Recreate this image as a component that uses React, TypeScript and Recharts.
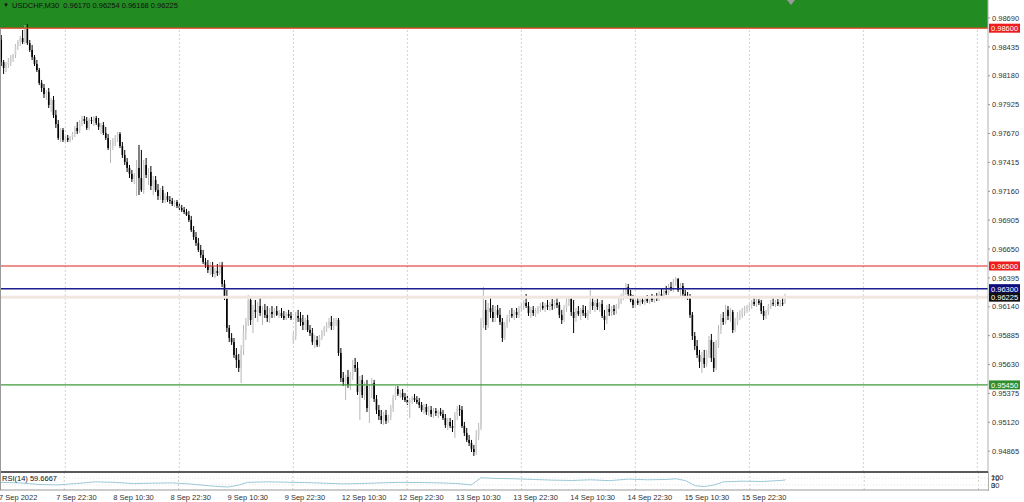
import React from 'react';
import { ComposedChart, Bar, Line, XAxis, YAxis, ReferenceLine, ReferenceArea } from 'recharts';

// USDCHF M30, one candle = [open, high, low, close]
type Candle = [number, number, number, number];

const sep07: Candle[] = [
  [0.98496, 0.98540, 0.98266, 0.98302], [0.98302, 0.98319, 0.98196, 0.98249], [0.98249, 0.98302, 0.98213, 0.98284],
  [0.98284, 0.98337, 0.98249, 0.98302], [0.98302, 0.98363, 0.98266, 0.98337], [0.98337, 0.98372, 0.98302, 0.98363],
  [0.98363, 0.98460, 0.98337, 0.98443], [0.98443, 0.98496, 0.98408, 0.98478], [0.98478, 0.98531, 0.98443, 0.98513],
  [0.98513, 0.98584, 0.98460, 0.98478], [0.98478, 0.98628, 0.98460, 0.98593], [0.98593, 0.98637, 0.98452, 0.98469],
  [0.98469, 0.98496, 0.98390, 0.98408], [0.98408, 0.98452, 0.98319, 0.98346], [0.98346, 0.98363, 0.98266, 0.98284],
  [0.98284, 0.98319, 0.98213, 0.98231], [0.98231, 0.98249, 0.98098, 0.98116], [0.98116, 0.98143, 0.98037, 0.98072],
  [0.98072, 0.98107, 0.97984, 0.98019], [0.98019, 0.98054, 0.97966, 0.98037], [0.98037, 0.98072, 0.97895, 0.97922],
  [0.97922, 0.97984, 0.97860, 0.97966], [0.97966, 0.98001, 0.97807, 0.97834], [0.97834, 0.97878, 0.97719, 0.97754],
  [0.97754, 0.97789, 0.97613, 0.97630], [0.97630, 0.97719, 0.97595, 0.97701], [0.97701, 0.97719, 0.97595, 0.97613],
];

const sep08: Candle[] = [
  [0.97613, 0.97648, 0.97586, 0.97630], [0.97630, 0.97657, 0.97595, 0.97613], [0.97613, 0.97648, 0.97595, 0.97639],
  [0.97639, 0.97683, 0.97613, 0.97666], [0.97666, 0.97736, 0.97639, 0.97719], [0.97719, 0.97772, 0.97666, 0.97692],
  [0.97692, 0.97789, 0.97675, 0.97772], [0.97772, 0.97825, 0.97736, 0.97798], [0.97798, 0.97825, 0.97754, 0.97781],
  [0.97781, 0.97816, 0.97701, 0.97719], [0.97719, 0.97807, 0.97701, 0.97789], [0.97789, 0.97816, 0.97754, 0.97781],
  [0.97781, 0.97825, 0.97736, 0.97807], [0.97807, 0.97825, 0.97745, 0.97763], [0.97763, 0.97807, 0.97701, 0.97728],
  [0.97728, 0.97763, 0.97666, 0.97745], [0.97745, 0.97772, 0.97657, 0.97675], [0.97675, 0.97728, 0.97613, 0.97630],
  [0.97630, 0.97666, 0.97525, 0.97542], [0.97542, 0.97613, 0.97410, 0.97560], [0.97560, 0.97630, 0.97525, 0.97595],
  [0.97595, 0.97657, 0.97560, 0.97630], [0.97630, 0.97683, 0.97595, 0.97666], [0.97666, 0.97683, 0.97542, 0.97560],
  [0.97560, 0.97595, 0.97454, 0.97480], [0.97480, 0.97525, 0.97392, 0.97419], [0.97419, 0.97454, 0.97330, 0.97366],
  [0.97366, 0.97392, 0.97277, 0.97313], [0.97313, 0.97348, 0.97242, 0.97268], [0.97268, 0.97321, 0.97224, 0.97295],
  [0.97295, 0.97436, 0.97118, 0.97366], [0.97366, 0.97569, 0.97127, 0.97277], [0.97277, 0.97525, 0.97154, 0.97171],
  [0.97171, 0.97436, 0.97136, 0.97392], [0.97392, 0.97454, 0.97277, 0.97304], [0.97304, 0.97366, 0.97215, 0.97330],
  [0.97330, 0.97383, 0.97171, 0.97207], [0.97207, 0.97295, 0.97127, 0.97260], [0.97260, 0.97295, 0.97154, 0.97171],
  [0.97171, 0.97224, 0.97083, 0.97118], [0.97118, 0.97189, 0.97083, 0.97171], [0.97171, 0.97207, 0.97057, 0.97083],
  [0.97083, 0.97145, 0.97057, 0.97118], [0.97118, 0.97154, 0.97065, 0.97083], [0.97083, 0.97118, 0.97048, 0.97074],
  [0.97074, 0.97101, 0.97030, 0.97048], [0.97048, 0.97083, 0.97021, 0.97065], [0.97065, 0.97083, 0.97012, 0.97030],
];

const sep09: Candle[] = [
  [0.97030, 0.97057, 0.96995, 0.97012], [0.97012, 0.97039, 0.96977, 0.96995], [0.96995, 0.97021, 0.96959, 0.96977],
  [0.96977, 0.97004, 0.96942, 0.96951], [0.96951, 0.96986, 0.96889, 0.96906], [0.96906, 0.96942, 0.96800, 0.96818],
  [0.96818, 0.96853, 0.96730, 0.96756], [0.96756, 0.96800, 0.96677, 0.96703], [0.96703, 0.96747, 0.96624, 0.96642],
  [0.96642, 0.96686, 0.96571, 0.96597], [0.96597, 0.96642, 0.96518, 0.96536], [0.96536, 0.96571, 0.96483, 0.96509],
  [0.96509, 0.96553, 0.96438, 0.96465], [0.96465, 0.96536, 0.96421, 0.96500], [0.96500, 0.96536, 0.96403, 0.96430],
  [0.96430, 0.96483, 0.96394, 0.96456], [0.96456, 0.96518, 0.96412, 0.96438], [0.96438, 0.96536, 0.96421, 0.96509],
  [0.96509, 0.96536, 0.96315, 0.96341], [0.96341, 0.96377, 0.96200, 0.96235], [0.96235, 0.96288, 0.95917, 0.95953],
  [0.95953, 0.95979, 0.95829, 0.95864], [0.95864, 0.95908, 0.95803, 0.95829], [0.95829, 0.95864, 0.95688, 0.95714],
  [0.95714, 0.95776, 0.95600, 0.95670], [0.95670, 0.95723, 0.95564, 0.95600], [0.95600, 0.95803, 0.95467, 0.95759],
  [0.95759, 0.95979, 0.95714, 0.95917], [0.95917, 0.96041, 0.95847, 0.96006], [0.96006, 0.96244, 0.95970, 0.96200],
  [0.96200, 0.96226, 0.95979, 0.96023], [0.96023, 0.96156, 0.95908, 0.96112], [0.96112, 0.96200, 0.96041, 0.96094],
  [0.96094, 0.96182, 0.96006, 0.96147], [0.96147, 0.96218, 0.96059, 0.96085], [0.96085, 0.96147, 0.95979, 0.96112],
  [0.96112, 0.96165, 0.96041, 0.96068], [0.96068, 0.96147, 0.96006, 0.96041], [0.96041, 0.96129, 0.95997, 0.96094],
  [0.96094, 0.96147, 0.96041, 0.96076], [0.96076, 0.96129, 0.96041, 0.96103], [0.96103, 0.96147, 0.96059, 0.96068],
  [0.96068, 0.96112, 0.96041, 0.96085], [0.96085, 0.96129, 0.96041, 0.96059], [0.96059, 0.96103, 0.96023, 0.96041],
  [0.96041, 0.96094, 0.96023, 0.96076], [0.96076, 0.96112, 0.96041, 0.96059], [0.96059, 0.96094, 0.96023, 0.96041],
];

const sep12: Candle[] = [
  [0.95847, 0.95917, 0.95811, 0.95882], [0.95882, 0.96094, 0.95847, 0.96059], [0.96059, 0.96112, 0.96006, 0.96041],
  [0.96041, 0.96094, 0.95970, 0.96006], [0.96006, 0.96068, 0.95935, 0.95979], [0.95979, 0.96041, 0.95935, 0.96023],
  [0.96023, 0.96068, 0.95917, 0.95935], [0.95935, 0.95979, 0.95882, 0.95908], [0.95908, 0.95953, 0.95803, 0.95829],
  [0.95829, 0.95891, 0.95776, 0.95847], [0.95847, 0.95882, 0.95785, 0.95803], [0.95803, 0.95891, 0.95785, 0.95873],
  [0.95873, 0.95935, 0.95847, 0.95917], [0.95917, 0.95970, 0.95882, 0.95953], [0.95953, 0.96006, 0.95917, 0.95979],
  [0.95979, 0.96041, 0.95953, 0.96006], [0.96006, 0.96059, 0.95935, 0.95970], [0.95970, 0.96041, 0.95935, 0.96015],
  [0.96015, 0.96041, 0.95970, 0.96023], [0.96023, 0.96041, 0.95706, 0.95732], [0.95732, 0.95776, 0.95476, 0.95511],
  [0.95511, 0.95564, 0.95441, 0.95476], [0.95476, 0.95538, 0.95317, 0.95520], [0.95520, 0.95582, 0.95423, 0.95449],
  [0.95449, 0.95564, 0.95405, 0.95538], [0.95538, 0.95670, 0.95494, 0.95626], [0.95626, 0.95688, 0.95564, 0.95600],
  [0.95600, 0.95653, 0.95361, 0.95388], [0.95388, 0.95529, 0.95140, 0.95494], [0.95494, 0.95538, 0.95335, 0.95361],
  [0.95361, 0.95476, 0.95317, 0.95441], [0.95441, 0.95494, 0.95211, 0.95246], [0.95246, 0.95449, 0.95114, 0.95405],
  [0.95405, 0.95511, 0.95335, 0.95467], [0.95467, 0.95494, 0.95299, 0.95326], [0.95326, 0.95361, 0.95193, 0.95229],
  [0.95229, 0.95273, 0.95140, 0.95176], [0.95176, 0.95229, 0.95105, 0.95140], [0.95140, 0.95211, 0.95096, 0.95185],
  [0.95185, 0.95229, 0.95105, 0.95132], [0.95132, 0.95185, 0.95114, 0.95167], [0.95167, 0.95273, 0.95140, 0.95246],
  [0.95246, 0.95361, 0.95211, 0.95335], [0.95335, 0.95441, 0.95317, 0.95414], [0.95414, 0.95441, 0.95352, 0.95370],
  [0.95370, 0.95405, 0.95335, 0.95379], [0.95379, 0.95414, 0.95317, 0.95343], [0.95343, 0.95379, 0.95299, 0.95317],
];

const sep13: Candle[] = [
  [0.95317, 0.95352, 0.95273, 0.95291], [0.95291, 0.95335, 0.95158, 0.95317], [0.95317, 0.95352, 0.95282, 0.95335],
  [0.95335, 0.95370, 0.95299, 0.95317], [0.95317, 0.95352, 0.95282, 0.95299], [0.95299, 0.95335, 0.95246, 0.95273],
  [0.95273, 0.95299, 0.95211, 0.95229], [0.95229, 0.95282, 0.95193, 0.95255], [0.95255, 0.95282, 0.95185, 0.95211],
  [0.95211, 0.95264, 0.95176, 0.95229], [0.95229, 0.95264, 0.95167, 0.95193], [0.95193, 0.95246, 0.95158, 0.95220],
  [0.95220, 0.95246, 0.95176, 0.95202], [0.95202, 0.95229, 0.95158, 0.95211], [0.95211, 0.95246, 0.95176, 0.95193],
  [0.95193, 0.95229, 0.95140, 0.95158], [0.95158, 0.95193, 0.95070, 0.95096], [0.95096, 0.95158, 0.95052, 0.95123],
  [0.95123, 0.95158, 0.95070, 0.95087], [0.95087, 0.95140, 0.95034, 0.95070], [0.95070, 0.95211, 0.94981, 0.95185],
  [0.95185, 0.95264, 0.95140, 0.95238], [0.95238, 0.95273, 0.95176, 0.95229], [0.95229, 0.95264, 0.95070, 0.95087],
  [0.95087, 0.95123, 0.94999, 0.95026], [0.95026, 0.95070, 0.94946, 0.94964], [0.94964, 0.95008, 0.94911, 0.94937],
  [0.94937, 0.94964, 0.94858, 0.94884], [0.94884, 0.94920, 0.94823, 0.94858], [0.94858, 0.95052, 0.94832, 0.94999],
  [0.94999, 0.95114, 0.94964, 0.95070], [0.95070, 0.96041, 0.95052, 0.96006], [0.96006, 0.96315, 0.95953, 0.96112],
  [0.96112, 0.96200, 0.95935, 0.95979], [0.95979, 0.96174, 0.95953, 0.96129], [0.96129, 0.96235, 0.96041, 0.96094],
  [0.96094, 0.96156, 0.96006, 0.96041], [0.96041, 0.96147, 0.96006, 0.96112], [0.96112, 0.96156, 0.96041, 0.96068],
  [0.96068, 0.96129, 0.95979, 0.96006], [0.96006, 0.96041, 0.95829, 0.95864], [0.95864, 0.96006, 0.95847, 0.95979],
  [0.95979, 0.96068, 0.95953, 0.96041], [0.96041, 0.96112, 0.96006, 0.96076], [0.96076, 0.96129, 0.96041, 0.96059],
  [0.96059, 0.96112, 0.96023, 0.96094], [0.96094, 0.96129, 0.96041, 0.96068], [0.96068, 0.96147, 0.96041, 0.96121],
];

const sep14: Candle[] = [
  [0.96121, 0.96174, 0.96094, 0.96147], [0.96147, 0.96200, 0.96112, 0.96174], [0.96174, 0.96253, 0.96129, 0.96147],
  [0.96147, 0.96182, 0.96059, 0.96085], [0.96085, 0.96138, 0.96041, 0.96112], [0.96112, 0.96147, 0.96059, 0.96085],
  [0.96085, 0.96129, 0.96050, 0.96103], [0.96103, 0.96147, 0.96076, 0.96129], [0.96129, 0.96174, 0.96094, 0.96147],
  [0.96147, 0.96182, 0.96112, 0.96129], [0.96129, 0.96174, 0.96094, 0.96156], [0.96156, 0.96200, 0.96112, 0.96138],
  [0.96138, 0.96182, 0.96103, 0.96165], [0.96165, 0.96209, 0.96112, 0.96147], [0.96147, 0.96200, 0.96121, 0.96174],
  [0.96174, 0.96218, 0.96129, 0.96156], [0.96156, 0.96182, 0.96041, 0.96068], [0.96068, 0.96112, 0.95988, 0.96023],
  [0.96023, 0.96156, 0.96006, 0.96129], [0.96129, 0.96218, 0.96094, 0.96182], [0.96182, 0.96235, 0.96147, 0.96209],
  [0.96209, 0.96226, 0.96059, 0.96094], [0.96094, 0.96200, 0.95908, 0.96041], [0.96041, 0.96129, 0.96006, 0.96103],
  [0.96103, 0.96147, 0.96059, 0.96076], [0.96076, 0.96129, 0.96023, 0.96112], [0.96112, 0.96156, 0.96059, 0.96085],
  [0.96085, 0.96147, 0.96041, 0.96059], [0.96059, 0.96112, 0.96023, 0.96094], [0.96094, 0.96288, 0.96076, 0.96182],
  [0.96182, 0.96235, 0.96112, 0.96147], [0.96147, 0.96200, 0.96094, 0.96174], [0.96174, 0.96209, 0.96112, 0.96138],
  [0.96138, 0.96182, 0.96094, 0.96165], [0.96165, 0.96200, 0.96041, 0.96059], [0.96059, 0.96112, 0.95935, 0.96023],
  [0.96023, 0.96156, 0.95988, 0.96121], [0.96121, 0.96165, 0.96059, 0.96094], [0.96094, 0.96147, 0.96059, 0.96121],
  [0.96121, 0.96156, 0.96068, 0.96103], [0.96103, 0.96165, 0.96076, 0.96147], [0.96147, 0.96218, 0.96121, 0.96191],
  [0.96191, 0.96253, 0.96165, 0.96226], [0.96226, 0.96297, 0.96200, 0.96271], [0.96271, 0.96350, 0.96244, 0.96315],
  [0.96315, 0.96341, 0.96235, 0.96253], [0.96253, 0.96288, 0.96182, 0.96200], [0.96200, 0.96244, 0.96129, 0.96156],
];

const sep15: Candle[] = [
  [0.96156, 0.96218, 0.96129, 0.96191], [0.96191, 0.96226, 0.96156, 0.96174], [0.96174, 0.96218, 0.96147, 0.96200],
  [0.96200, 0.96235, 0.96165, 0.96182], [0.96182, 0.96226, 0.96156, 0.96209], [0.96209, 0.96244, 0.96174, 0.96191],
  [0.96191, 0.96235, 0.96165, 0.96218], [0.96218, 0.96253, 0.96182, 0.96200], [0.96200, 0.96244, 0.96174, 0.96226],
  [0.96226, 0.96262, 0.96191, 0.96209], [0.96209, 0.96279, 0.96191, 0.96253], [0.96253, 0.96297, 0.96218, 0.96235],
  [0.96235, 0.96297, 0.96209, 0.96279], [0.96279, 0.96324, 0.96244, 0.96262], [0.96262, 0.96341, 0.96244, 0.96315],
  [0.96315, 0.96359, 0.96279, 0.96297], [0.96297, 0.96385, 0.96271, 0.96359], [0.96359, 0.96403, 0.96324, 0.96385],
  [0.96385, 0.96394, 0.96271, 0.96288], [0.96288, 0.96350, 0.96235, 0.96324], [0.96324, 0.96350, 0.96226, 0.96253],
  [0.96253, 0.96288, 0.96218, 0.96235], [0.96235, 0.96271, 0.96200, 0.96226], [0.96226, 0.96253, 0.96041, 0.96068],
  [0.96068, 0.96094, 0.95847, 0.95882], [0.95882, 0.95917, 0.95759, 0.95794], [0.95794, 0.95847, 0.95688, 0.95714],
  [0.95714, 0.95759, 0.95600, 0.95653], [0.95653, 0.95741, 0.95555, 0.95688], [0.95688, 0.95759, 0.95600, 0.95635],
  [0.95635, 0.95759, 0.95608, 0.95723], [0.95723, 0.95882, 0.95688, 0.95847], [0.95847, 0.95900, 0.95653, 0.95688],
  [0.95688, 0.95829, 0.95564, 0.95600], [0.95600, 0.95847, 0.95582, 0.95803], [0.95803, 0.95979, 0.95776, 0.95935],
  [0.95935, 0.96076, 0.95900, 0.96041], [0.96041, 0.96094, 0.95979, 0.96006], [0.96006, 0.96156, 0.95988, 0.96112],
  [0.96112, 0.96147, 0.96023, 0.96059], [0.96059, 0.96129, 0.96006, 0.96094], [0.96094, 0.96112, 0.95908, 0.95935],
  [0.95935, 0.96041, 0.95917, 0.96006], [0.96006, 0.96094, 0.95979, 0.96059], [0.96059, 0.96112, 0.96023, 0.96076],
  [0.96076, 0.96129, 0.96041, 0.96103], [0.96103, 0.96147, 0.96059, 0.96121], [0.96121, 0.96156, 0.96085, 0.96138],
];

const sep16: Candle[] = [
  [0.96138, 0.96174, 0.96103, 0.96156], [0.96156, 0.96200, 0.96121, 0.96182], [0.96182, 0.96218, 0.96147, 0.96165],
  [0.96165, 0.96209, 0.96138, 0.96191], [0.96191, 0.96209, 0.96156, 0.96174], [0.96174, 0.96200, 0.96076, 0.96103],
  [0.96103, 0.96147, 0.96023, 0.96059], [0.96059, 0.96112, 0.96032, 0.96094], [0.96094, 0.96165, 0.96068, 0.96147],
  [0.96147, 0.96200, 0.96121, 0.96174], [0.96174, 0.96218, 0.96147, 0.96165], [0.96165, 0.96200, 0.96138, 0.96182],
  [0.96182, 0.96209, 0.96147, 0.96165], [0.96165, 0.96200, 0.96138, 0.96174], [0.96174, 0.96218, 0.96147, 0.96170],
  [0.96170, 0.96254, 0.96168, 0.96225],
];

// RSI(14): [bar index, value]
const rsiPoints: [number, number][] = [
  [0, 45], [8, 42], [16, 33], [24, 30], [32, 38], [40, 48], [48, 45], [56, 38], [64, 40], [72, 42],
  [80, 35], [88, 25], [92, 20], [96, 18], [100, 28], [104, 45], [112, 48], [120, 46], [128, 44], [136, 40],
  [144, 36], [152, 38], [160, 42], [168, 45], [176, 44], [184, 42], [192, 38], [198, 30], [202, 72], [208, 68],
  [216, 66], [224, 62], [232, 58], [240, 56], [248, 60], [256, 55], [264, 64], [272, 60], [280, 62], [284, 66],
  [288, 55], [292, 25], [296, 20], [300, 30], [304, 48], [312, 52], [320, 50], [328, 56], [330, 59.6667],
];

const timeLabels = [
  '7 Sep 2022', '7 Sep 22:30', '8 Sep 10:30', '8 Sep 22:30', '9 Sep 10:30', '9 Sep 22:30', '12 Sep 10:30',
  '12 Sep 22:30', '13 Sep 10:30', '13 Sep 22:30', '14 Sep 10:30', '14 Sep 22:30', '15 Sep 10:30', '15 Sep 22:30',
];

const priceTicks = [
  0.9869, 0.98435, 0.9818, 0.97925, 0.9767, 0.97415, 0.9716, 0.96905,
  0.9665, 0.96395, 0.9614, 0.95885, 0.9563, 0.95375, 0.9512, 0.94865,
];

const levels = [
  { price: 0.986, line: '#e8401f', tag: '#ee1c1c', width: 1.3 },
  { price: 0.965, line: '#e2231d', tag: '#ee1c1c', width: 1.2 },
  { price: 0.963, line: '#1c1f8c', tag: '#0e0e7c', width: 1.5 },
  { price: 0.9545, line: '#3d9b3d', tag: '#2f8f2f', width: 1.2 },
];
const bidPrice = 0.96225;
const bandFrom = 0.986;

const Y_MIN = 0.94681;
const Y_MAX = 0.98849;
const SLOTS = 416; // bars that fit across the window, incl. empty right shift
const BARS_PER_LABEL = 24;
const FIRST_MIDNIGHT = 27; // 8 Sep 00:00
const BARS_PER_DAY = 48;

const candles = [sep07, sep08, sep09, sep12, sep13, sep14, sep15, sep16].flat();
const rsiMap = new Map(rsiPoints);

const data = Array.from({ length: SLOTS }, (_, i) => {
  const c = candles[i];
  const row: any = { i, rsi: rsiMap.has(i) ? rsiMap.get(i) : null };
  if (c) {
    row.o = c[0];
    row.h = c[1];
    row.l = c[2];
    row.c = c[3];
    row.range = [c[2], c[1]];
  }
  return row;
});

const dayLines: number[] = [];
for (let d = FIRST_MIDNIGHT; d < SLOTS; d += BARS_PER_DAY) dayLines.push(d);

const FONT = '"Liberation Sans", Arial, sans-serif';

const CandleShape = (props: any) => {
  const { x, y, width, height, payload } = props;
  if (!payload || payload.o == null) return null;
  const { o, h, l, c } = payload;
  const top0 = Math.min(y, y + height);
  const hgt = Math.abs(height);
  const span = h - l || 1;
  const toY = (v: number) => top0 + ((h - v) / span) * hgt;
  const cx = x + width / 2;
  const bull = c >= o;
  const bTop = toY(Math.max(o, c));
  const bBot = toY(Math.min(o, c));
  return (
    <g>
      <line x1={cx} x2={cx} y1={top0} y2={top0 + hgt} stroke={bull ? '#b8b8b8' : '#000'} strokeWidth={1} />
      <rect x={cx - 0.8} y={bTop} width={1.6} height={Math.max(bBot - bTop, 0.8)} fill={bull ? '#cfcfcf' : '#000'} />
    </g>
  );
};

const priceTag = (color: string, text: string) => (props: any) => {
  const vb = props.viewBox || {};
  const x = (vb.x || 0) + (vb.width || 0) + 1;
  const y = vb.y || 0;
  return (
    <g>
      <rect x={x} y={y - 4.5} width={31} height={9} fill={color} />
      <text x={x + 2} y={y + 3} fontSize={7.5} fill="#fff" style={{ fontFamily: FONT }}>
        {text}
      </text>
    </g>
  );
};

const TimeTick = (props: any) => {
  const { x, y, payload } = props;
  const k = payload.value / BARS_PER_LABEL;
  const label = timeLabels[k];
  if (!label) return null;
  return (
    <text x={x - 1} y={y + 2} fontSize={7.5} fill="#333" textAnchor="start" style={{ fontFamily: FONT }}>
      {label}
    </text>
  );
};

const small: React.CSSProperties = { position: 'absolute', fontFamily: FONT, fontSize: 7.5, lineHeight: '9px', whiteSpace: 'pre' };

export default function App() {
  return (
    <div style={{ position: 'absolute', left: 0, top: 0, width: 1024, height: 502, background: '#fff', overflow: 'hidden' }}>
      <div style={{ position: 'absolute', left: 0, top: 0 }}>
        <ComposedChart width={1024} height={472} data={data} margin={{ top: 0, right: 0, bottom: 0, left: 0 }}>
          <XAxis dataKey="i" type="category" hide />
          <YAxis
            orientation="right"
            type="number"
            width={36}
            domain={[Y_MIN, Y_MAX]}
            allowDataOverflow
            ticks={priceTicks}
            interval={0}
            tickFormatter={(v: number) => v.toFixed(5)}
            tick={{ fontSize: 7.5, fill: '#333', fontFamily: FONT }}
            tickSize={2}
            tickMargin={2}
            tickLine={{ stroke: '#999' }}
            axisLine={{ stroke: '#b0b0b0' }}
          />
          <ReferenceArea y1={bandFrom} y2={Y_MAX} fill="#228b22" fillOpacity={1} stroke="none" ifOverflow="hidden" />
          {dayLines.map((d) => (
            <ReferenceLine
              key={d}
              segment={[{ x: d, y: Y_MIN }, { x: d, y: bandFrom }]}
              stroke="#d0d0d0"
              strokeDasharray="2 2"
            />
          ))}
          <ReferenceLine y={bidPrice} stroke="#f0e8e0" strokeWidth={3} />
          <Bar dataKey="range" shape={(p: any) => <CandleShape {...p} />} isAnimationActive={false} />
          {levels.map((lv) => (
            <ReferenceLine
              key={lv.price}
              y={lv.price}
              stroke={lv.line}
              strokeWidth={lv.width}
              label={priceTag(lv.tag, lv.price.toFixed(5))}
            />
          ))}
          <ReferenceLine y={bidPrice} stroke="none" label={priceTag('#111', bidPrice.toFixed(5))} />
        </ComposedChart>
      </div>

      <div style={{ position: 'absolute', left: 0, top: 472 }}>
        <ComposedChart width={1024} height={30} data={data} margin={{ top: 1, right: 36, bottom: 0, left: 0 }}>
          <XAxis
            dataKey="i"
            type="category"
            interval={BARS_PER_LABEL - 1}
            height={12}
            tickLine={false}
            axisLine={{ stroke: '#999' }}
            tick={<TimeTick />}
          />
          <YAxis hide domain={[0, 100]} type="number" />
          {dayLines.map((d) => (
            <ReferenceLine key={d} x={d} stroke="#d0d0d0" strokeDasharray="2 2" />
          ))}
          <ReferenceLine y={70} stroke="#e4e4e4" strokeDasharray="1 2" />
          <ReferenceLine y={30} stroke="#e4e4e4" strokeDasharray="1 2" />
          <Line dataKey="rsi" stroke="#9cc9d8" strokeWidth={1} dot={false} connectNulls isAnimationActive={false} />
        </ComposedChart>
      </div>

      {/* panel separators, borders */}
      <div style={{ position: 'absolute', left: 0, top: 471, width: 988, height: 2, background: '#5a5a5a' }} />
      <div style={{ position: 'absolute', left: 0, top: 28, width: 1, height: 462, background: '#9a9a9a' }} />
      <div style={{ position: 'absolute', left: 988, top: 472, width: 1, height: 19, background: '#b0b0b0' }} />

      {/* header */}
      <div style={{ ...small, left: 3, top: 1, color: '#111', fontSize: 6 }}>▼</div>
      <div style={{ ...small, left: 12, top: 1, color: '#111' }}>USDCHF,M30  0.96170 0.96254 0.96168 0.96225</div>
      {/* chart shift marker */}
      <div
        style={{
          position: 'absolute', left: 787, top: 0, width: 0, height: 0,
          borderLeft: '4px solid transparent', borderRight: '4px solid transparent', borderTop: '5px solid #9a9a9a',
        }}
      />

      {/* RSI sub window texts */}
      <div style={{ ...small, left: 2, top: 474, color: '#111' }}>RSI(14) 59.6667</div>
      <div style={{ ...small, left: 991, top: 473, color: '#333' }}>100</div>
      <div style={{ ...small, left: 991, top: 474, color: '#333' }}>70</div>
      <div style={{ ...small, left: 991, top: 481, color: '#333' }}>30</div>
      <div style={{ ...small, left: 991, top: 481, color: '#333' }}>0</div>
    </div>
  );
}
